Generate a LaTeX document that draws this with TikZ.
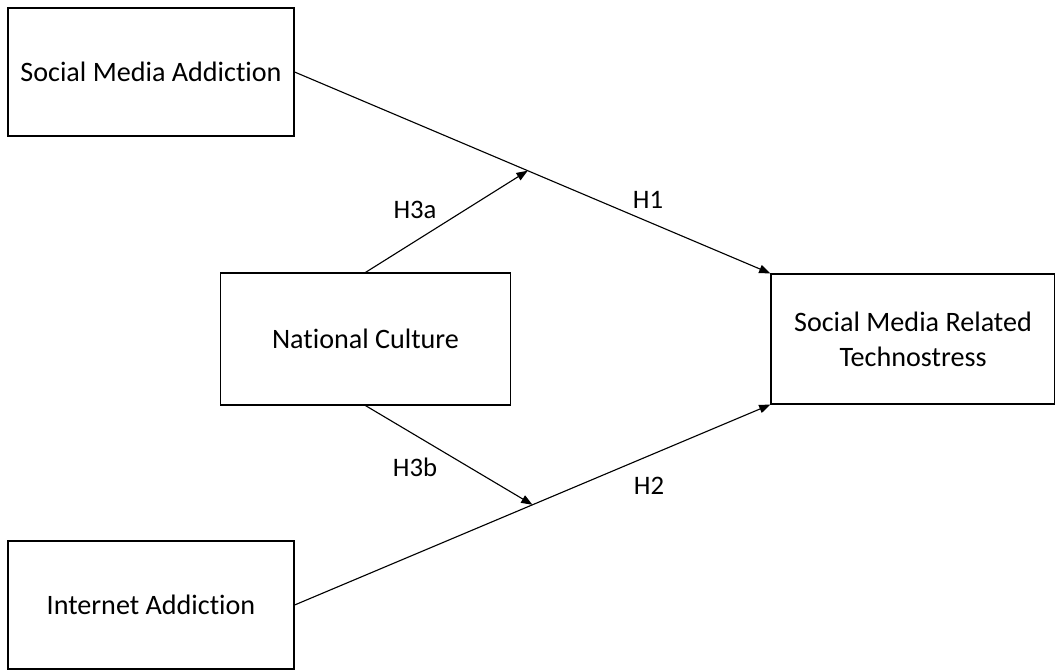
\documentclass[tikz,border=0pt]{standalone}
\usepackage{fontspec}
\setmainfont[Ligatures=NoCommon]{Carlito}
\usetikzlibrary{arrows.meta,calc}

\tikzset{
  box/.style={draw, line width=0.8pt, align=center, inner sep=0pt,
    font=\fontsize{20}{25}\selectfont},
  lbl/.style={font=\fontsize{19}{22}\selectfont},
  >={Triangle[length=8pt,width=6pt]}
}

\begin{document}
\begin{tikzpicture}[x=0.025cm, y=-0.025cm, line width=0.8pt]
		\useasboundingbox (0,0) rectangle (1055,671);

		\node[box, minimum width=7.15cm, minimum height=3.2cm] (sma) at (151, 72) {Social Media Addiction};
		\node[box, minimum width=7.25cm, minimum height=3.3cm] (nc) at (365.5, 339) {National Culture};
		\node[box, minimum width=7.15cm, minimum height=3.2cm] (ia) at (151, 605) {Internet Addiction};
		\node[box, minimum width=7.1cm, minimum height=3.25cm] (smrt) at (913, 339) {Social Media Related\\Technostress};

		\coordinate (m1) at ($(sma.east)!0.49!(smrt.north west)$);
		\coordinate (m2) at ($(ia.east)!0.5!(smrt.south west)$);

		\draw[->] (sma.east) -- (smrt.north west);
		\draw[->] (ia.east) -- (smrt.south west);
		\draw[->] (nc.north) -- (m1);
		\draw[->] (nc.south) -- (m2);

		\node[lbl] (h1) at (648, 200) {H1};
		\node[lbl] (h2) at (649, 486) {H2};
		\node[lbl] (h3a) at (415, 210) {H3a};
		\node[lbl] (h3b) at (415, 467) {H3b};
	\end{tikzpicture}
\end{document}
